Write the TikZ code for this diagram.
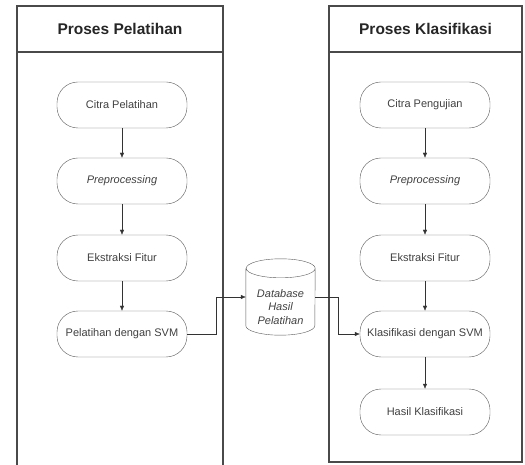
\documentclass[tikz,border=0pt]{standalone}
\usepackage{fontspec}
\setmainfont{Liberation Sans}
\usepackage{xcolor}
\usepackage{tikz}
\usetikzlibrary{arrows.meta, positioning, shapes.geometric}

\definecolor{lanegray}{HTML}{4A4A4A}
\definecolor{linegray}{HTML}{5A5A5A}
\definecolor{textgray}{HTML}{404040}

\tikzset{
    proc/.style={draw=linegray, rounded corners=21pt, minimum width=130pt, minimum height=46pt,
        inner sep=2pt, text=textgray, font=\fontsize{11}{13}\selectfont},
    store/.style={minimum width=69pt, minimum height=76pt, inner sep=0pt},
    storetext/.style={align=center, inner sep=1pt, text=textgray,
        font=\fontsize{11}{13.5}\selectfont\itshape},
    lane/.style={draw=lanegray, line width=1.4pt},
    lanetitle/.style={text=black!85, font=\fontsize{15.5}{18}\selectfont\bfseries},
    arr/.style={-{Latex[length=5pt, width=4.5pt]}, draw=black!80}
}

\begin{document}
\begin{tikzpicture}[x=1pt, y=1pt]
                \useasboundingbox (0, 0) rectangle (525, 464);

                % swimlanes
                \draw[lane] (17, -5) -- (17, 458) -- (223, 458) -- (223, -5);
                \draw[lane] (17, 412) -- (223, 412);
                \draw[lane] (329, 2) rectangle (522, 458);
                \draw[lane] (329, 412) -- (522, 412);
                \node[lanetitle] (t1) at (120, 435) {Proses Pelatihan};
                \node[lanetitle] (t2) at (425.5, 435) {Proses Klasifikasi};

                % pelatihan
                \node[proc] (l1) at (122, 359) {Citra Pelatihan};
                \node[proc] (l2) at (122, 283) {\itshape Preprocessing};
                \node[proc] (l3) at (122, 206) {Ekstraksi Fitur};
                \node[proc] (l4) at (122, 130) {Pelatihan dengan SVM};

                % database (cylinder)
                \node[store] (db) at (280.5, 167) {};
                \draw[linegray] ([yshift=-9.5]db.north west) -- ([yshift=9.5]db.south west)
                    arc[start angle=180, end angle=360, x radius=34.5, y radius=9.5]
                    -- ([yshift=-9.5]db.north east)
                    arc[start angle=0, end angle=180, x radius=34.5, y radius=9.5]
                    arc[start angle=180, end angle=360, x radius=34.5, y radius=9.5];
                \node[storetext] (dbtext) at ([yshift=-10]db.center) {Database\\Hasil\\Pelatihan};

                % klasifikasi
                \node[proc] (k1) at (425, 359) {Citra Pengujian};
                \node[proc] (k2) at (425, 283) {\itshape Preprocessing};
                \node[proc] (k3) at (425, 206) {Ekstraksi Fitur};
                \node[proc] (k4) at (425, 130) {Klasifikasi dengan SVM};
                \node[proc] (k5) at (425, 52) {Hasil Klasifikasi};

                \draw[arr] (l1) -- (l2);
                \draw[arr] (l2) -- (l3);
                \draw[arr] (l3) -- (l4);
                \draw[arr] (l4.east) -- ++(29, 0) |- (db.west);
                \draw[arr] (db.east) -- ++(23, 0) |- (k4.west);
                \draw[arr] (k1) -- (k2);
                \draw[arr] (k2) -- (k3);
                \draw[arr] (k3) -- (k4);
                \draw[arr] (k4) -- (k5);
            \end{tikzpicture}
\end{document}
